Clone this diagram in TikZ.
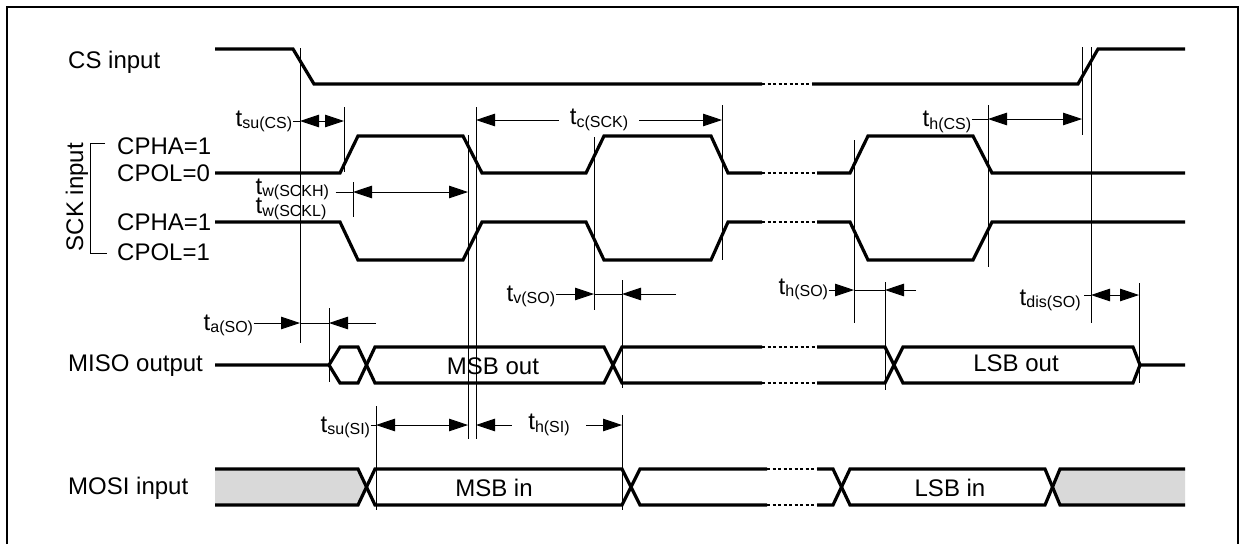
\documentclass[tikz,border=0pt]{standalone}
\usepackage{fontspec}
\setmainfont{Liberation Sans}
\usetikzlibrary{arrows.meta}

\newcommand{\tlab}[1]{t\lower2.7pt\hbox{\fontsize{16}{16}\selectfont #1}}

\begin{document}
\begin{tikzpicture}
        [x=1pt, y=-1pt,
        sig/.style={line width=3.2pt},
        dots/.style={line width=2.6pt, dash pattern=on 3pt off 2.5pt},
        refline/.style={line width=0.9pt},
        dim/.style={line width=0.9pt, >={Triangle[length=19pt,width=12.5pt]}},
        lbl/.style={font=\fontsize{24}{28}\selectfont, inner sep=0pt, anchor=base west},
        tlbl/.style={font=\fontsize{24}{28}\selectfont, inner sep=0.5pt, anchor=base west},
        bus/.style={font=\fontsize{24}{28}\selectfont, inner sep=0pt, anchor=base},
        gap/.style={font=\fontsize{24}{28}\selectfont, fill=white, inner ysep=0pt}]

        \useasboundingbox (0,0) rectangle (1248,544);
        \draw[line width=2pt] (7,544) -- (7,7) -- (1238,7) -- (1238,544);

        % signal names
        \node[lbl] (cs) at (68,68) {CS input};
        \node[lbl] (pha0) at (117,154) {CPHA=1};
        \node[lbl] (pol0) at (117,181.7) {CPOL=0};
        \node[lbl] (pha1) at (117,230) {CPHA=1};
        \node[lbl] (pol1) at (117,260) {CPOL=1};
        \node[lbl] (miso) at (68,371.7) {MISO output};
        \node[lbl] (mosi) at (68,494) {MOSI input};
        \node[font=\fontsize{24}{28}\selectfont, rotate=90, inner sep=0pt] (sck) at (77,197) {SCK input};
        \draw[refline] (105,143) -- (90,143) -- (90,253) -- (107,253);

        % CS input
        \draw[sig] (215,49) -- (293,49) -- (314,84) -- (762,84);
        \draw[dots] (762,84) -- (812,84);
        \draw[sig] (812,84) -- (1078,84) -- (1098,49) -- (1185,49);

        % SCK input, CPOL=0
        \draw[sig] (215,173) -- (340,173) -- (358,136) -- (463,136) -- (482,173) -- (586,173) -- (604,136) -- (711,136) -- (728,173) -- (762,173);
        \draw[dots] (762,173) -- (817,173);
        \draw[sig] (817,173) -- (850,173) -- (868,136) -- (973,136) -- (992,173) -- (1185,173);

        % SCK input, CPOL=1
        \draw[sig] (215,222) -- (340,222) -- (358,260) -- (463,260) -- (482,222) -- (586,222) -- (604,260) -- (711,260) -- (728,222) -- (762,222);
        \draw[dots] (762,222) -- (817,222);
        \draw[sig] (817,222) -- (850,222) -- (868,260) -- (973,260) -- (992,222) -- (1185,222);

        % MISO output
        \draw[sig] (215,365) -- (329,365) -- (340,347) -- (358,347) -- (375,383) -- (604,383) -- (622,347) -- (762,347);
        \draw[sig] (329,365) -- (340,383) -- (358,383) -- (375,347) -- (604,347) -- (622,383) -- (762,383);
        \draw[dots] (762,347) -- (817,347) (762,383) -- (817,383);
        \draw[sig] (817,347) -- (885,347) -- (903,383) -- (1133,383) -- (1140,365) -- (1185,365);
        \draw[sig] (817,383) -- (885,383) -- (903,347) -- (1133,347) -- (1140,365);
        \node[bus] (msbo) at (493,374) {MSB out};
        \node[bus] (lsbo) at (1016,371) {LSB out};

        % MOSI input
        \fill[black!15] (215,469) -- (358,469) -- (366.5,487) -- (358,505) -- (215,505) -- cycle;
        \fill[black!15] (1185,469) -- (1060,469) -- (1052.5,487) -- (1060,505) -- (1185,505) -- cycle;
        \draw[sig] (215,469) -- (358,469) -- (375,505) -- (622,505) -- (640,469) -- (767,469);
        \draw[sig] (215,505) -- (358,505) -- (375,469) -- (622,469) -- (640,505) -- (767,505);
        \draw[dots] (767,469) -- (817,469) (767,505) -- (817,505);
        \draw[sig] (817,469) -- (833,469) -- (850,505) -- (1045,505) -- (1060,469) -- (1185,469);
        \draw[sig] (817,505) -- (833,505) -- (850,469) -- (1045,469) -- (1060,505) -- (1185,505);
        \node[bus] (msbi) at (494,496) {MSB in};
        \node[bus] (lsbi) at (950,496) {LSB in};

        % timing marks
        \draw[refline] (300,48) -- (300,343);
        \draw[refline] (344,107) -- (344,172);
        \draw[refline] (353,182) -- (353,217);
        \draw[refline] (468,135) -- (468,439);
        \draw[refline] (476,107) -- (476,439);
        \draw[refline] (594,137) -- (594,310);
        \draw[refline] (622,280) -- (622,388);
        \draw[refline] (622,415) -- (622,510);
        \draw[refline] (722,105) -- (722,260);
        \draw[refline] (854,140) -- (854,323);
        \draw[refline] (885,282) -- (885,390);
        \draw[refline] (988,105) -- (988,267);
        \draw[refline] (1082,47) -- (1082,135);
        \draw[refline] (1091,47) -- (1091,323);
        \draw[refline] (1139,283) -- (1139,383);
        \draw[refline] (329,308) -- (329,382);
        \draw[refline] (376,406) -- (376,510);

        % t_su(CS)
        \node[tlbl] (tsucs) at (235,126) {\tlab{su(CS)}};
        \coordinate (a1) at (300,121);
        \coordinate (b1) at (344,121);
        \draw[dim] (tsucs.east |- a1) -- (a1);
        \draw[dim,<->] (a1) -- (b1);

        % t_w(SCKH), t_w(SCKL)
        \node[tlbl] (tw1) at (255,194) {\tlab{w(SCKH)}};
        \node[tlbl] (tw2) at (255,213.5) {\tlab{w(SCKL)}};
        \coordinate (a2) at (353,192);
        \coordinate (b2) at (468,192);
        \draw[dim] ([xshift=6pt]tw1.east |- a2) -- (a2);
        \draw[dim,<->] (a2) -- (b2);

        % t_c(SCK)
        \coordinate (a3) at (476,120);
        \coordinate (b3) at (722,120);
        \draw[dim,<->] (a3) -- node[gap, inner xsep=11pt] (tc) {\tlab{c(SCK)}} (b3);

        % t_h(CS)
        \node[tlbl] (thcs) at (922,126.7) {\tlab{h(CS)}};
        \coordinate (a4) at (988,119);
        \coordinate (b4) at (1082,119);
        \draw[dim] (thcs.east |- a4) -- (a4);
        \draw[dim,<->] (a4) -- (b4);

        % t_a(SO)
        \node[tlbl] (taso) at (203,330) {\tlab{a(SO)}};
        \coordinate (a5) at (300,323);
        \coordinate (b5) at (329,323);
        \coordinate (c5) at (376,323);
        \draw[dim,->] (taso.east |- a5) -- (a5);
        \draw[dim] (a5) -- (b5);
        \draw[dim,->] (c5) -- (b5);

        % t_v(SO)
        \node[tlbl] (tvso) at (506,301) {\tlab{v(SO)}};
        \coordinate (a6) at (594,294);
        \coordinate (b6) at (622,294);
        \coordinate (c6) at (676,294);
        \draw[dim,->] (tvso.east |- a6) -- (a6);
        \draw[dim] (a6) -- (b6);
        \draw[dim,->] (c6) -- (b6);

        % t_h(SO)
        \node[tlbl] (thso) at (778,294) {\tlab{h(SO)}};
        \coordinate (a7) at (854,290);
        \coordinate (b7) at (885,290);
        \coordinate (c7) at (916,290);
        \draw[dim,->] (thso.east |- a7) -- (a7);
        \draw[dim] (a7) -- (b7);
        \draw[dim,->] (c7) -- (b7);

        % t_dis(SO)
        \node[tlbl] (tdisso) at (1019,305) {\tlab{dis(SO)}};
        \coordinate (a8) at (1091,295);
        \coordinate (b8) at (1139,295);
        \draw[dim] ([xshift=3pt]tdisso.east |- a8) -- (a8);
        \draw[dim,<->] (a8) -- (b8);

        % t_su(SI)
        \node[tlbl] (tsusi) at (320,432) {\tlab{su(SI)}};
        \coordinate (a9) at (376,425);
        \coordinate (b9) at (468,425);
        \draw[dim] (tsusi.east |- a9) -- (a9);
        \draw[dim,<->] (a9) -- (b9);

        % t_h(SI)
        \coordinate (a10) at (476,425);
        \coordinate (b10) at (622,425);
        \draw[dim,<->] (a10) -- node[gap, inner xsep=16pt] (thsi) {\tlab{h(SI)}} (b10);

    \end{tikzpicture}
\end{document}
